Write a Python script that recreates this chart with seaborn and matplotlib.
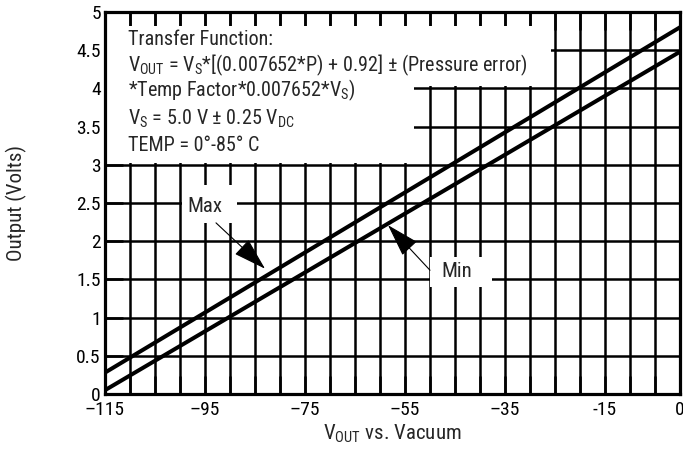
import numpy as np
import pandas as pd
import matplotlib
matplotlib.use("Agg")
import matplotlib.pyplot as plt
from matplotlib import font_manager
from matplotlib.patches import Rectangle
import seaborn as sns

# ---- data ----
pressure = [-115, 0]
vout_max = [0.28, 4.80]
vout_min = [0.05, 4.48]

x_tick_values = list(range(-115, 1, 5))
x_label_map = {-115: "\u2013115", -95: "\u201395", -75: "\u201375", -55: "\u201355",
               -35: "\u201335", -15: "-15", 0: "0"}
y_tick_values = [0, 0.5, 1, 1.5, 2, 2.5, 3, 3.5, 4, 4.5, 5]
y_tick_labels = ["0", "0.5", "1", "1.5", "2", "2.5", "3", "3.5", "4", "4.5", "5"]

box_lines = [
    "Transfer Function:",
    "$\\mathregular{V_{OUT}}$ = $\\mathregular{V_S}$*[(0.007652*P) + 0.92] \u00b1 (Pressure error)",
    "*Temp Factor*0.007652*$\\mathregular{V_S}$)",
    "$\\mathregular{V_S}$ = 5.0 V \u00b1 0.25 $\\mathregular{V_{DC}}$",
    "TEMP = 0\u00b0-85\u00b0 C",
]

sns.set_style("ticks")
names = {f.name for f in font_manager.fontManager.ttflist}
scale = 1.0
for cand in ["Roboto Condensed", "Archivo Narrow", "Liberation Sans Narrow"]:
    if cand in names:
        main_font = cand
        break
else:
    main_font = "Liberation Sans"
    scale = 0.85
plt.rcParams["font.family"] = [main_font, "DejaVu Sans"]
plt.rcParams["mathtext.default"] = "regular"

df = pd.DataFrame({
    "pressure": pressure * 2,
    "vout": vout_max + vout_min,
    "curve": ["Max"] * len(pressure) + ["Min"] * len(pressure),
})

fig = plt.figure(figsize=(6.83, 4.49), dpi=100)
ax = fig.add_axes([105 / 683, 1 - 394 / 449, 575 / 683, 382 / 449])

# grid
ax.vlines(x_tick_values, 0, 5, colors="black", lw=1.8, zorder=1)
ax.hlines(y_tick_values, -115, 0, colors="black", lw=1.8, zorder=1)

# white boxes that mask the grid
for (x0, y0, w, h) in [(-115, 4.03, 89.2, 0.79), (-115, 3.03, 61.8, 1.02),
                       (-99.6, 2.24, 11.0, 0.50), (-50.0, 1.40, 12.4, 0.39)]:
    ax.add_patch(Rectangle((x0, y0), w, h, facecolor="white", edgecolor="none", zorder=2))

sns.lineplot(data=df, x="pressure", y="vout", units="curve", estimator=None,
             color="black", lw=2.9, ax=ax, zorder=3, legend=False)

ax.set_xlim(-115, 0)
ax.set_ylim(0, 5)
ax.set_xticks(x_tick_values)
ax.set_xticklabels([x_label_map.get(v, "") for v in x_tick_values])
ax.set_yticks(y_tick_values)
ax.set_yticklabels(y_tick_labels)
ax.tick_params(axis="both", direction="in", length=13, width=1.8, colors="black",
               labelsize=14 * scale, top=True, right=False)
ax.tick_params(axis="x", pad=5)
ax.tick_params(axis="y", pad=3)
for s in ax.spines.values():
    s.set_visible(True)
    s.set_linewidth(2.3)
    s.set_color("black")

ax.set_xlabel("$\\mathregular{V_{OUT}}$ vs. Vacuum", fontsize=15 * scale)
ax.set_ylabel("Output (Volts)", fontsize=15 * scale)
ax.xaxis.set_label_coords(0.5, -0.075)
ax.yaxis.set_label_coords(-0.135, 0.5)

baselines = [4.57, 4.23, 3.89, 3.53, 3.18]
for txt, yb in zip(box_lines, baselines):
    ax.text(-110.4, yb, txt, fontsize=14.5 * scale, ha="left", va="baseline", zorder=4)

ax.text(-95.0, 2.46, "Max", fontsize=15 * scale, ha="center", va="center", zorder=4)
ax.text(-44.6, 1.60, "Min", fontsize=15 * scale, ha="center", va="center", zorder=4)

arrow = dict(arrowstyle="-|>,head_length=1.05,head_width=0.32", mutation_scale=20,
             lw=0.8, color="black", shrinkA=0, shrinkB=0)
ax.annotate("", xy=(-83.0, 1.64), xytext=(-92.8, 2.24), arrowprops=arrow, zorder=4)
ax.annotate("", xy=(-58.4, 2.21), xytext=(-50.0, 1.62), arrowprops=arrow, zorder=4)

fig.savefig("out.png", dpi=100)
